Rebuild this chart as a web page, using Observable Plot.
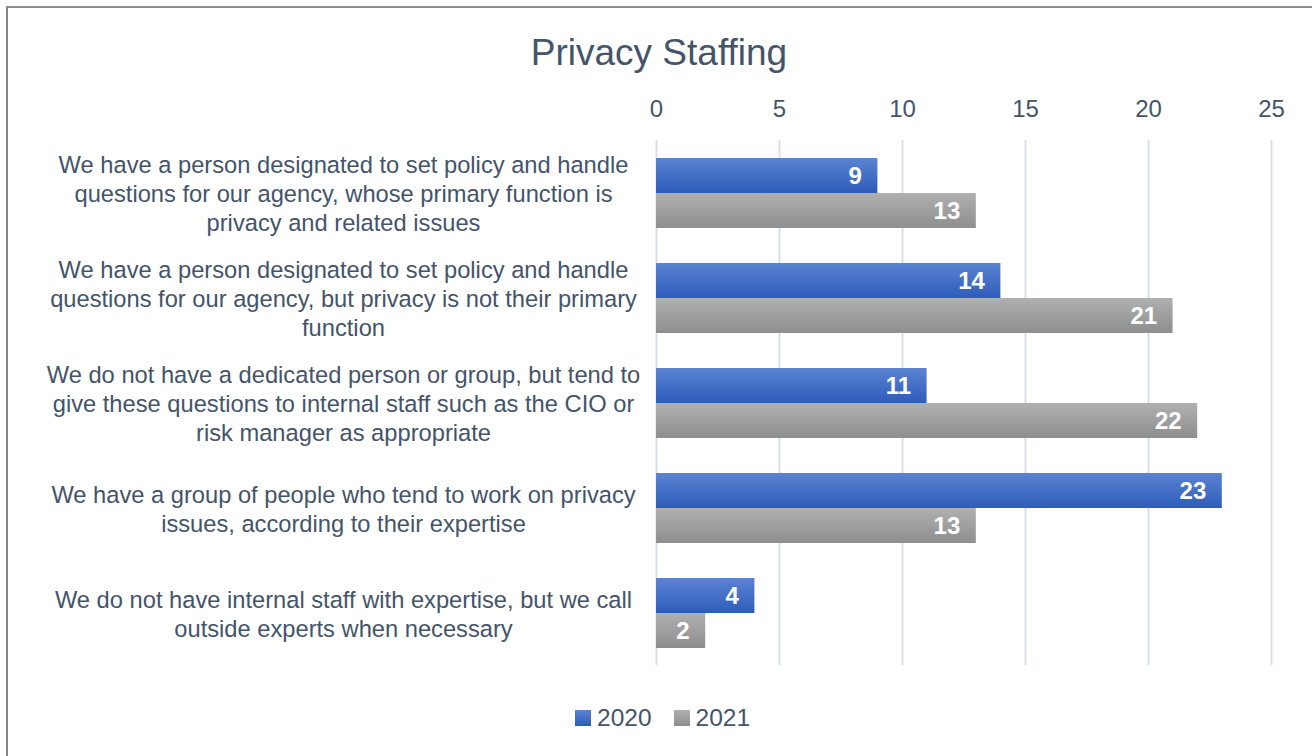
<!DOCTYPE html>
<html>
<head>
<meta charset="utf-8">
<script src="https://cdn.jsdelivr.net/npm/d3@7"></script>
<script src="https://cdn.jsdelivr.net/npm/@observablehq/plot@0.6"></script>
<style>
  body { margin: 0; background: #fff; font-family: "Liberation Sans", Arial, sans-serif; }
  #wrap { position: relative; width: 1312px; height: 756px; overflow: hidden; }
  #border { position: absolute; left: 6px; top: 6px; width: 1400px; height: 900px; border-left: 2px solid #858585; border-top: 2px solid #8f8f8f; }
  #title { position: absolute; left: 0; width: 1318px; top: 32px; text-align: center; font-size: 37px; color: #44546A; }
  #chart { position: absolute; left: 0; top: 0; }
  #legend { position: absolute; top: 704px; left: 575px; font-size: 24.5px; color: #44546A; display: flex; align-items: center; }
  .sw { display: inline-block; width: 16px; height: 16px; margin-right: 6px; }
</style>
</head>
<body>
<div id="wrap">
  <div id="border"></div>
  <div id="title">Privacy Staffing</div>
  <div id="chart"></div>
  <div id="legend"></div>
</div>
<script>
const categories = [
  "We have a person designated to set policy and handle\nquestions for our agency, whose primary function is\nprivacy and related issues",
  "We have a person designated to set policy and handle\nquestions for our agency, but privacy is not their primary\nfunction",
  "We do not have a dedicated person or group, but tend to\ngive these questions to internal staff such as the CIO or\nrisk manager as appropriate",
  "We have a group of people who tend to work on privacy\nissues, according to their expertise",
  "We do not have internal staff with expertise, but we call\noutside experts when necessary"
];
const series = ["2020", "2021"];
const values2020 = [9, 14, 11, 23, 4];
const values2021 = [13, 21, 22, 13, 2];
const xTicks = [0, 5, 10, 15, 20, 25];

const data = [];
categories.forEach((c, i) => {
  data.push({category: c, year: "2020", value: values2020[i]});
  data.push({category: c, year: "2021", value: values2021[i]});
});

const fills = {"2020": "url(#g2020)", "2021": "url(#g2021)"};
const swatch = {"2020": "linear-gradient(#5b83d2, #2d5cb9)", "2021": "linear-gradient(#b0b0b0, #8e8e8e)"};

const plot = Plot.plot({
  width: 1312,
  height: 680,
  marginLeft: 656,
  marginRight: 41,
  marginTop: 138,
  marginBottom: 14,
  style: {fontFamily: "'Liberation Sans', Arial, sans-serif", color: "#44546A", background: "transparent"},
  x: {domain: [0, 25], axis: "top", ticks: xTicks, tickSize: 0, tickPadding: 24, label: null},
  fy: {domain: categories, padding: 0, axis: null},
  y: {domain: series, paddingInner: 0, paddingOuter: 0.485, axis: null},
  marks: [
    Plot.gridX(xTicks, {stroke: "#D9DFE8", strokeOpacity: 1, strokeWidth: 2}),
    ...series.map(s => Plot.barX(data.filter(d => d.year === s), {
      fy: "category", y: "year", x: "value", fill: fills[s], insetTop: 0, insetBottom: 0
    })),
    Plot.text(data, {
      fy: "category", y: "year", x: "value", text: d => String(d.value),
      textAnchor: "end", dx: -16, fill: "white", fontWeight: "bold", fontSize: 24
    }),
    Plot.text(categories, {
      fy: d => d, text: d => d, frameAnchor: "left", dx: -313, textAnchor: "middle",
      lineHeight: 1.22, fontSize: 23.7, fill: "#44546A"
    })
  ]
});

d3.select(plot).selectAll("g[aria-label='x-axis tick label']").attr("font-size", 24);
d3.select(plot).selectAll("g[aria-label='x-axis tick label'] text").attr("font-size", 24);
d3.select(plot).insert("defs", ":first-child").html(`
  <linearGradient id="g2020" x1="0" y1="0" x2="0" y2="1">
    <stop offset="0" stop-color="#5b83d2"/><stop offset="1" stop-color="#2d5cb9"/>
  </linearGradient>
  <linearGradient id="g2021" x1="0" y1="0" x2="0" y2="1">
    <stop offset="0" stop-color="#b0b0b0"/><stop offset="1" stop-color="#8e8e8e"/>
  </linearGradient>`);
document.getElementById("chart").appendChild(plot);

const legend = document.getElementById("legend");
series.forEach((s, i) => {
  const item = document.createElement("span");
  item.style.display = "inline-flex";
  item.style.alignItems = "center";
  item.style.marginRight = i === 0 ? "22px" : "0";
  item.innerHTML = `<span class="sw" style="background:${swatch[s]}"></span>${s}`;
  legend.appendChild(item);
});
</script>
</body>
</html>
